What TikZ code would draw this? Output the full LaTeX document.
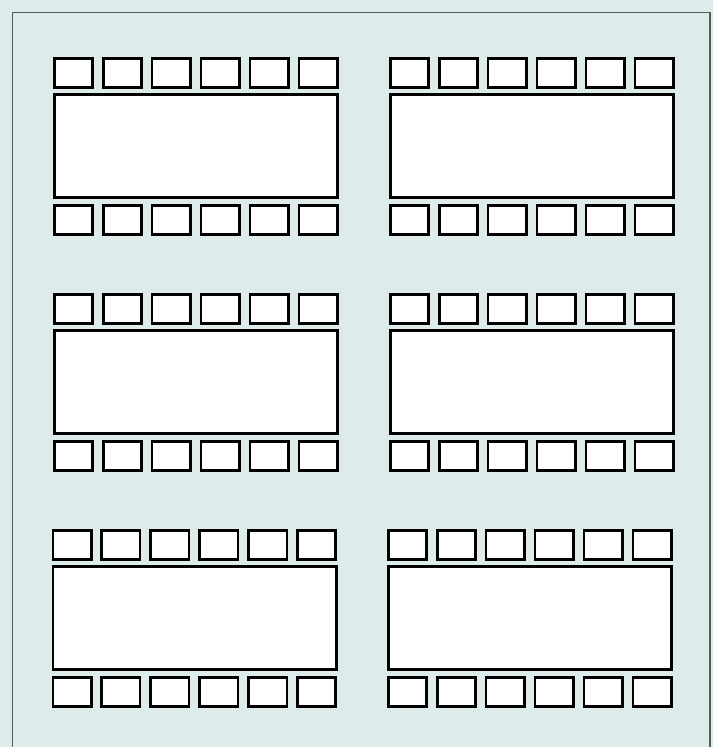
\documentclass[tikz,border=0pt]{standalone}
\definecolor{bgc}{RGB}{221,236,235}
\definecolor{framec}{RGB}{85,90,90}
\tikzset{
  cell/.style={draw=black, fill=white, line width=2.6pt, inner sep=0pt, anchor=north west, minimum width=38.4pt, minimum height=29pt},
  panel/.style={draw=black, fill=white, line width=2.6pt, inner sep=0pt, anchor=north west, minimum width=283.4pt, minimum height=103pt}
}
\begin{document}
\begin{tikzpicture}[x=1pt,y=-1pt]
\useasboundingbox (0,0) rectangle (713,747);
\fill[bgc] (0,0) rectangle (713,747);
\draw[framec, line width=1.3pt] (12.5,752) -- (12.5,12.5) -- (710,12.5) -- (710,752);
\foreach \r/\x/\y in {1/53/57, 2/389/57, 3/53/293, 4/389/293, 5/51.5/529, 6/387/529}{
  \node[panel] (p\r) at (\x,\y+36) {};
  \foreach \i in {0,...,5}{
    \node[cell] (t\r\i) at (\x+\i*48.9,\y) {};
    \node[cell] (b\r\i) at (\x+\i*48.9,\y+147) {};
  }
}
\end{tikzpicture}
\end{document}
